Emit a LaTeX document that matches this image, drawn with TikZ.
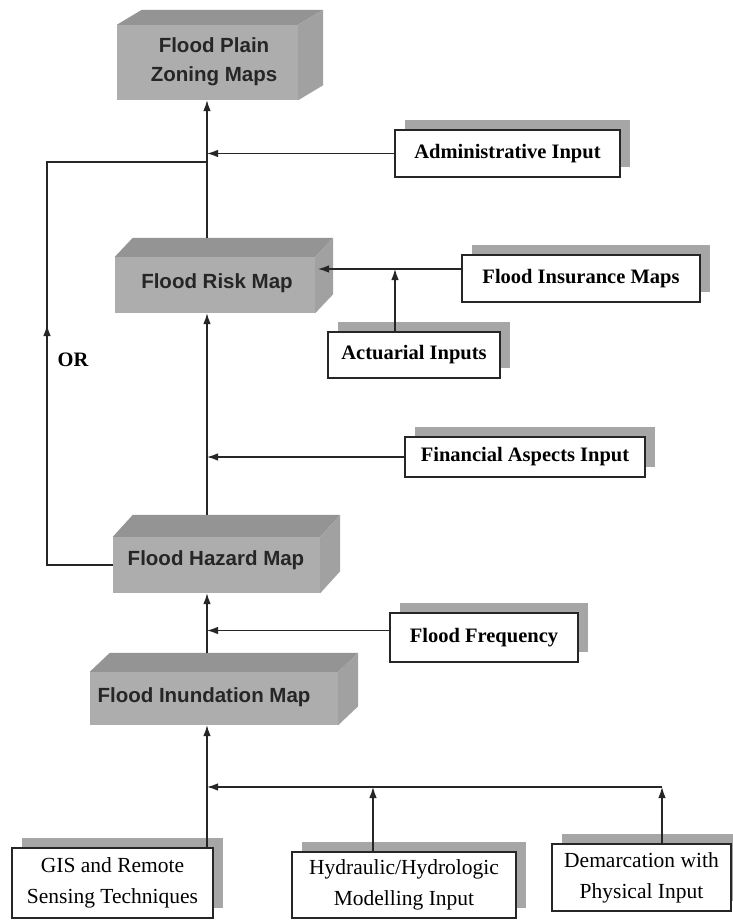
\documentclass[tikz,border=0pt]{standalone}
\usepackage{fontspec}
\setmainfont{Liberation Serif}
\newfontfamily\sansb{Liberation Sans}
\usetikzlibrary{arrows.meta,shadows,calc}
\begin{document}
\begin{tikzpicture}[x=1pt,y=-1pt,
  conn/.style={line width=1.2pt, draw=black!85},
  arr/.style={conn, -{Latex[length=11pt,width=7.5pt]}},
  ibox/.style={draw=black!85, line width=1.3pt, fill=white, inner sep=0pt,
    font=\fontsize{20.5}{24}\selectfont\bfseries,
    drop shadow={shadow xshift=10pt, shadow yshift=10pt, fill=black!35, opacity=1}},
  sbox/.style={ibox, font=\fontsize{21.5}{31}\selectfont, align=center},
  front/.style={fill=black!32, inner sep=0pt},
  topf/.style={fill=black!42},
  sidef/.style={fill=black!37},
  slab/.style={font=\sansb\fontsize{20.5}{29}\selectfont\bfseries, align=center, text=black!85},
]
\useasboundingbox (0,0) rectangle (732,921);
\fill[white] (0,0) rectangle (732,921);

% main vertical axis and helper coordinates
\coordinate (mx) at (207,0);
\coordinate (lt) at (47,162);
\coordinate (orarr) at (47,325);
\coordinate (riskin) at (318,269);
\coordinate (actx) at (395,0);
\coordinate (hj) at (207,787);
\coordinate (hydx) at (373,0);
\coordinate (demx) at (662,0);

% ---- 3D slabs ----
% Flood Plain Zoning Maps
\node[front, minimum width=181pt, minimum height=75pt] (zon) at (207.5,62.5) {};
\fill[topf] (zon.north west) -- ++(25,-15) -- ($(zon.north east)+(25,-15)$) -- (zon.north east) -- cycle;
\fill[sidef] (zon.north east) -- ++(25,-15) -- ($(zon.south east)+(25,-15)$) -- (zon.south east) -- cycle;
\node[slab] (zonlbl) at (214,62) {Flood Plain\\Zoning Maps};

% Flood Risk Map
\node[front, minimum width=200pt, minimum height=56pt] (risk) at (215,285) {};
\fill[topf] (risk.north west) -- ++(18,-19) -- ($(risk.north east)+(18,-19)$) -- (risk.north east) -- cycle;
\fill[sidef] (risk.north east) -- ++(18,-19) -- ($(risk.south east)+(18,-19)$) -- (risk.south east) -- cycle;
\node[slab] (risklbl) at (217,283) {Flood Risk Map};

% Flood Hazard Map
\node[front, minimum width=207pt, minimum height=56pt] (haz) at (216.5,565) {};
\fill[topf] (haz.north west) -- ++(20,-22) -- ($(haz.north east)+(20,-22)$) -- (haz.north east) -- cycle;
\fill[sidef] (haz.north east) -- ++(20,-22) -- ($(haz.south east)+(20,-22)$) -- (haz.south east) -- cycle;
\node[slab] (hazlbl) at (216,560) {Flood Hazard Map};

% Flood Inundation Map
\node[front, minimum width=248pt, minimum height=53pt] (inu) at (214,698.5) {};
\fill[topf] (inu.north west) -- ++(20,-19) -- ($(inu.north east)+(20,-19)$) -- (inu.north east) -- cycle;
\fill[sidef] (inu.north east) -- ++(20,-19) -- ($(inu.south east)+(20,-19)$) -- (inu.south east) -- cycle;
\node[slab] (inulbl) at (204,697) {Flood Inundation Map};

% ---- input boxes ----
\node[ibox, minimum width=225pt, minimum height=47pt] (admin) at (507.5,153.5) {Administrative Input};
\node[ibox, minimum width=238pt, minimum height=47pt] (ins) at (581,278.5) {Flood Insurance Maps};
\node[ibox, minimum width=172pt, minimum height=46pt] (act) at (414,355) {Actuarial Inputs};
\node[ibox, minimum width=240pt, minimum height=40pt] (fin) at (525,457) {Financial Aspects Input};
\node[ibox, minimum width=188pt, minimum height=49pt] (freq) at (484,637.5) {Flood Frequency};
\node[sbox, minimum width=201pt, minimum height=70pt] (gis) at (112.5,883) {GIS and Remote\\Sensing Techniques};
\node[sbox, minimum width=224pt, minimum height=66pt] (hyd) at (404,885) {Hydraulic/Hydrologic\\Modelling Input};
\node[sbox, minimum width=179pt, minimum height=67pt] (dem) at (641.5,877.5) {Demarcation with\\Physical Input};

\node[font=\fontsize{20.5}{24}\selectfont\bfseries] (or) at (73,360) {OR};

% ---- connectors ----
\draw[arr] ($(risk.north -| mx)+(0,-19)$) -- (zon.south -| mx);
\draw[arr] (admin.west) -- (admin.west -| mx);
\draw[conn] (haz.west) -- (haz.west -| lt) -- (lt) -- (lt -| mx);
\draw[arr] (haz.west -| lt) -- (orarr);
\draw[arr] ($(ins.west)+(0,-9.5)$) -- (riskin);
\draw[arr] (act.north -| actx) -- (riskin -| actx);
\draw[arr] ($(haz.north -| mx)+(0,-22)$) -- (risk.south -| mx);
\draw[arr] (fin.west) -- (fin.west -| mx);
\draw[arr] ($(inu.north -| mx)+(0,-19)$) -- (haz.south -| mx);
\draw[arr] ($(freq.west)+(0,-7)$) -- ($(freq.west -| mx)+(0,-7)$);
\draw[arr] (gis.north -| mx) -- (inu.south -| mx);
\draw[arr] (hj -| demx) -- (hj);
\draw[arr] (dem.north -| demx) -- (hj -| demx);
\draw[arr] (hyd.north -| hydx) -- (hj -| hydx);
\end{tikzpicture}
\end{document}
